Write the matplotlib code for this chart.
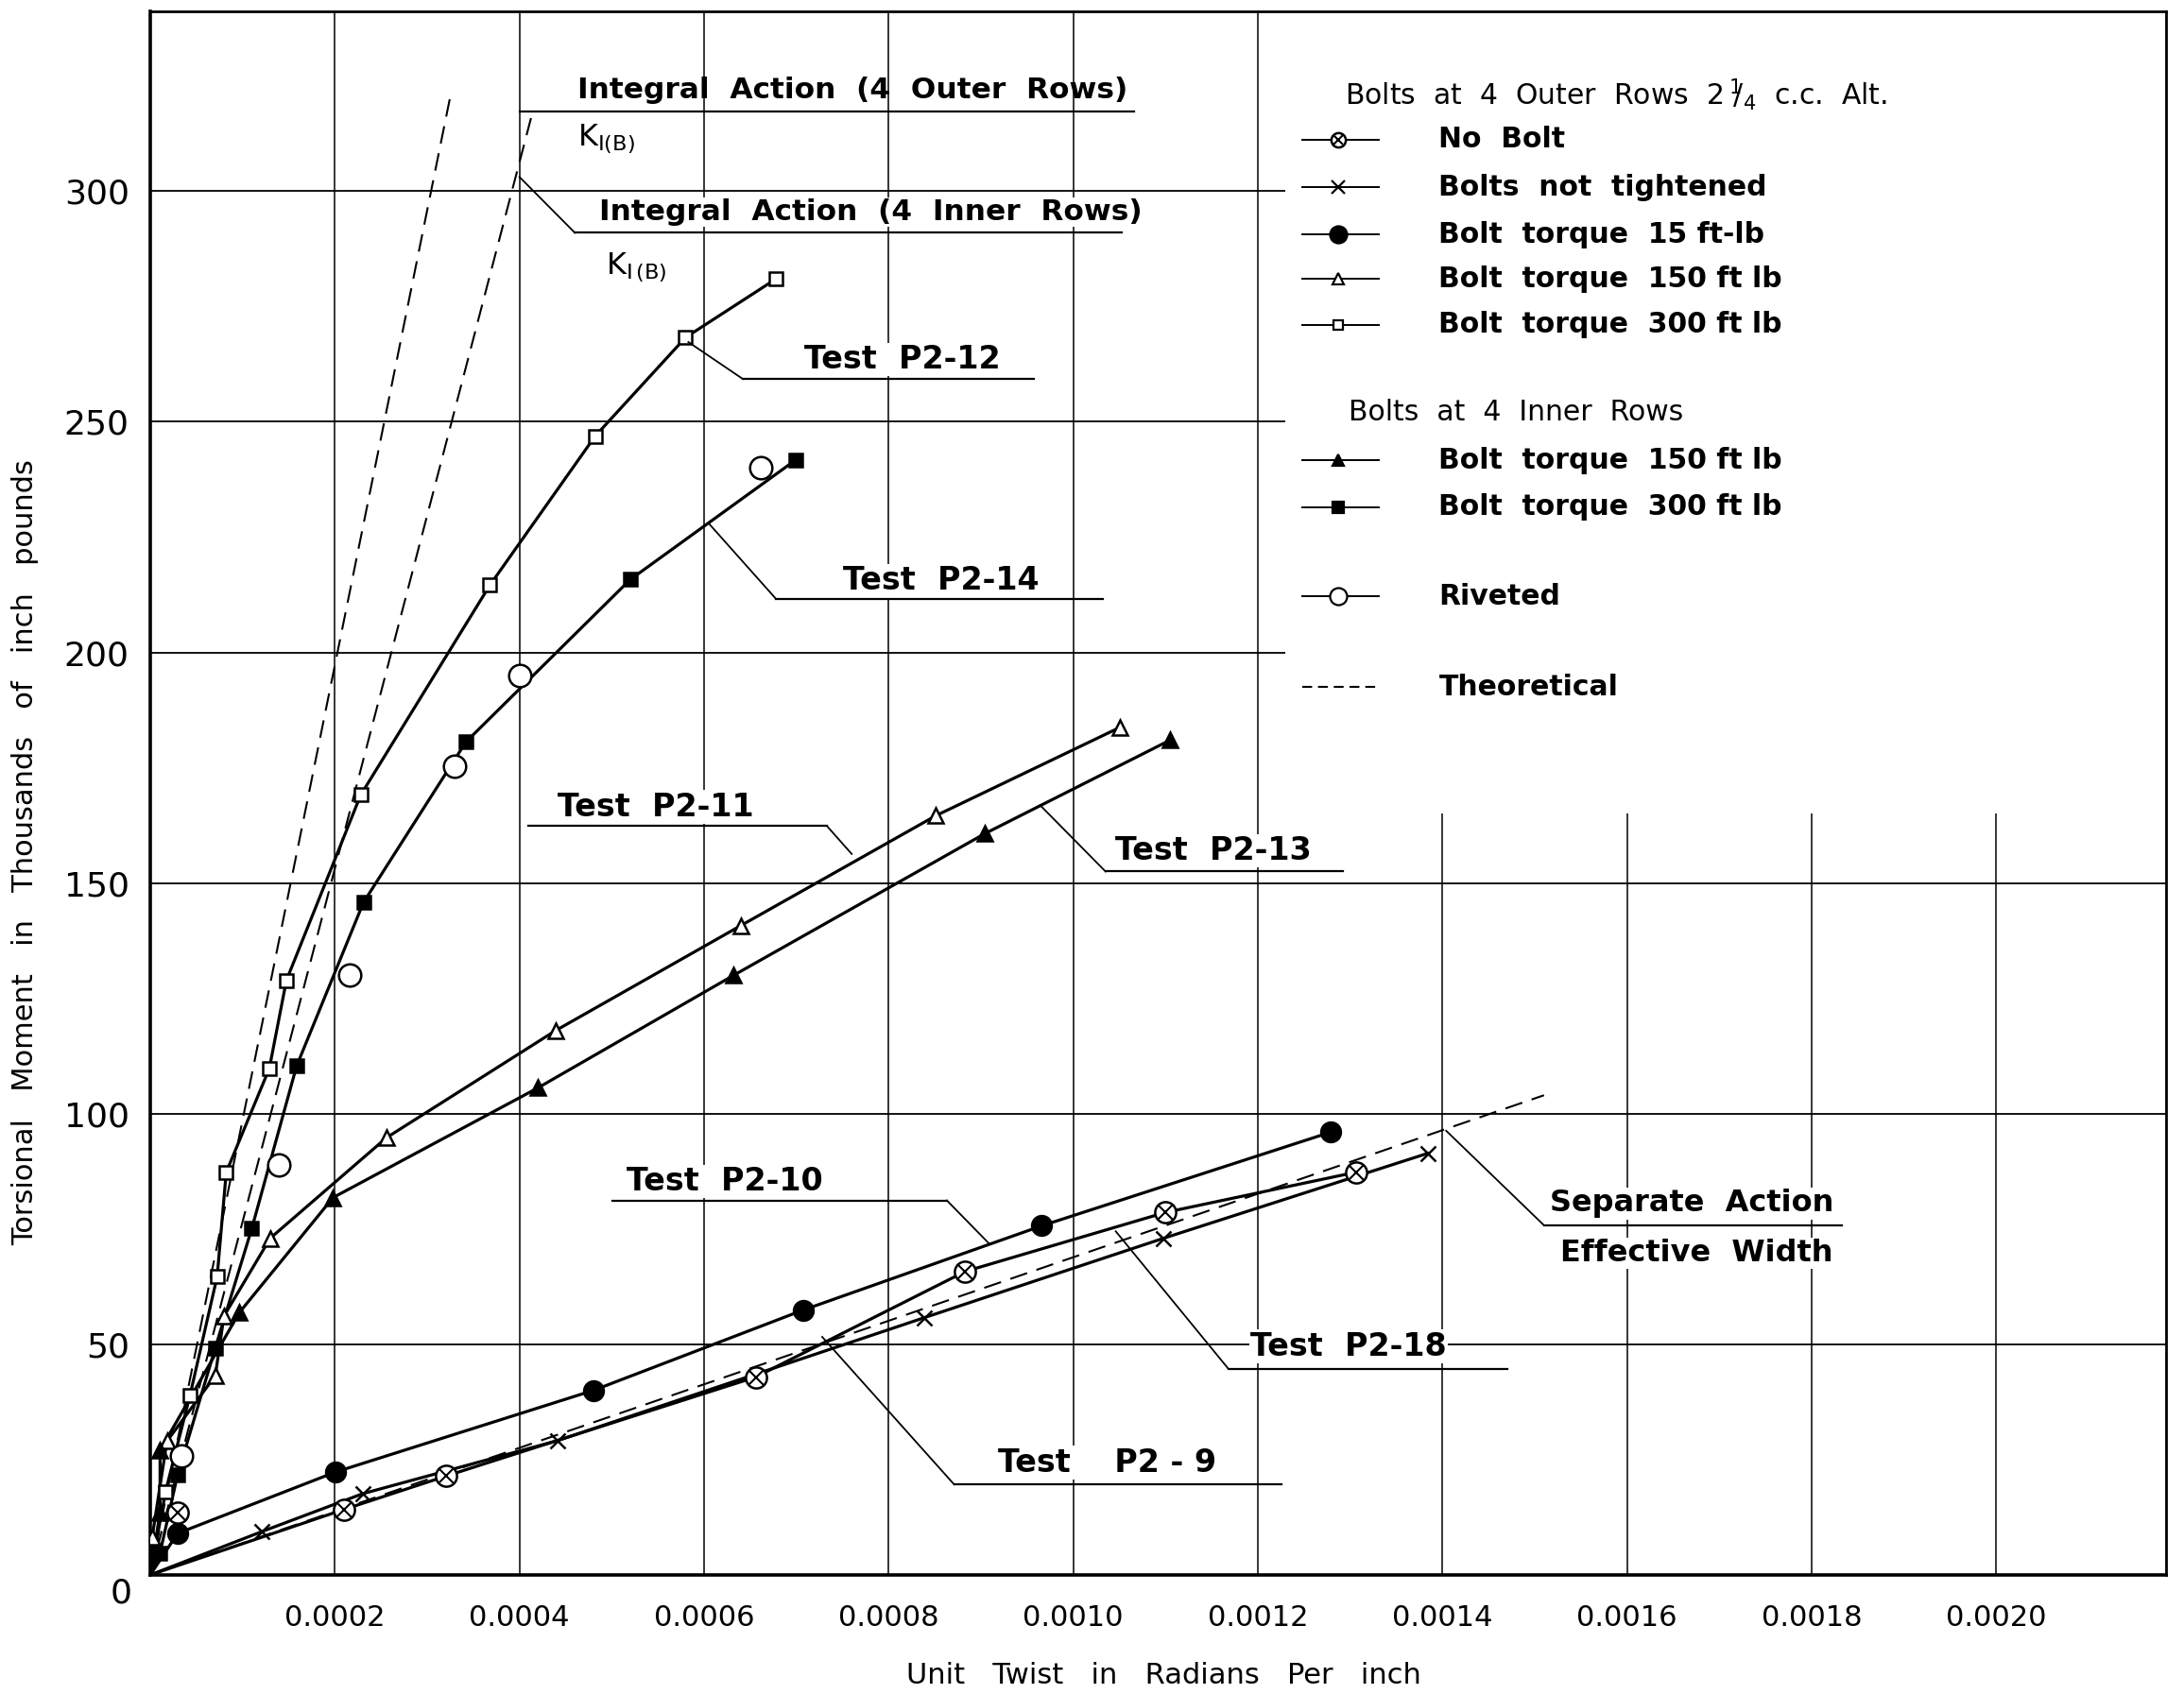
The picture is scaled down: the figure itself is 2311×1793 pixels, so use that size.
import matplotlib
matplotlib.use('Agg')
import matplotlib.pyplot as plt

# Axis ticks
x_ticks = [0.0002, 0.0004, 0.0006, 0.0008, 0.0010, 0.0012, 0.0014, 0.0016, 0.0018, 0.0020]
x_tick_labels = ['0.0002', '0.0004', '0.0006', '0.0008', '0.0010', '0.0012',
                 '0.0014', '0.0016', '0.0018', '0.0020']
y_ticks = [50, 100, 150, 200, 250, 300]
y_tick_labels = ['50', '100', '150', '200', '250', '300']

# Test P2-12, bolts at 4 outer rows, torque 300 ft lb (open squares)
p2_12_x = [0, 0.0000166, 0.000043, 0.0000725, 0.0000823, 0.000129, 0.0001475,
           0.000228, 0.000368, 0.000482, 0.00058, 0.000678]
p2_12_y = [0, 18.1, 38.9, 64.7, 87.3, 109.8, 128.9, 169.1, 214.6, 246.9, 268.3, 281]

# Test P2-14, bolts at 4 inner rows, torque 300 ft lb (filled squares)
p2_14_x = [0, 0.0000106, 0.0000296, 0.0000704, 0.00011, 0.0001585, 0.000231,
           0.000342, 0.00052, 0.000699]
p2_14_y = [0, 4.8, 21.7, 49.2, 75.1, 110.3, 145.8, 180.6, 215.8, 241.7]

# Riveted (open circles)
riveted_x = [0.000034, 0.000139, 0.000216, 0.00033, 0.0004, 0.000661]
riveted_y = [25.9, 88.9, 130, 175.3, 195, 240]

# Test P2-11, outer rows, torque 150 ft lb (open triangles)
p2_11_x = [0, 0.000002, 0.0000181, 0.0000705, 0.0000798, 0.00013, 0.000256,
           0.000439, 0.00064, 0.000851, 0.001051]
p2_11_y = [0, 8.1, 29, 43.2, 56.1, 73, 94.8, 118, 140.8, 164.6, 183.8]

# Test P2-13, inner rows, torque 150 ft lb (filled triangles)
p2_13_x = [0, 0.0000106, 0.0000106, 0.0000966, 0.000198, 0.00042, 0.000632,
           0.000904, 0.001105]
p2_13_y = [0, 13.6, 27, 56.9, 81.8, 105.6, 130, 160.7, 181]

# Test P2-10, torque 15 ft-lb (filled circles)
p2_10_x = [0, 0.0000296, 0.0002006, 0.00048, 0.000707, 0.000966, 0.001279]
p2_10_y = [0, 9.0, 22.3, 40, 57.4, 75.7, 96]

# Test P2-18, no bolt (circled crosses)
p2_18_x = [0, 0.00021, 0.00032, 0.000656, 0.000883, 0.0011, 0.001306]
p2_18_y = [0, 14.2, 21.4, 42.9, 65.8, 78.6, 87.3]
no_bolt_extra_x = [0.00003]
no_bolt_extra_y = [13.6]

# Test P2-9, bolts not tightened (crosses)
p2_9_x = [0, 0.000121, 0.00023, 0.000441, 0.000839, 0.001098, 0.001384]
p2_9_y = [0, 9.4, 17.6, 29.1, 55.8, 73, 91.4]

# Theoretical lines
integral_outer_x = [0, 0.000325]
integral_outer_y = [0, 320.5]
integral_inner_x = [0, 0.000414]
integral_inner_y = [0, 317]
separate_x = [0, 0.00151]
separate_y = [0, 104]

LW = 2.3
DASH = (0, (9, 5))


def draw_curve(ax, x, y, marker, ms, filled):
    """Solid curve from the origin with markers on the measured points."""
    ax.plot(x, y, color='black', lw=LW, zorder=3)
    ax.plot(x[1:], y[1:], ls='none', marker=marker, ms=ms,
            mfc='black' if filled else 'white', mec='black', mew=1.8, zorder=4)


def draw_otimes(ax, x, y, ms):
    ax.plot(x, y, ls='none', marker='o', ms=ms, mfc='white', mec='black', mew=1.8, zorder=5)
    ax.plot(x, y, ls='none', marker='x', ms=ms * 0.68, mec='black', mew=1.5, zorder=6)


def label_with_leader(ax, text, text_x, text_y, line_x0, line_x1, line_y, leader, size=24):
    """Text over an underline, with a leader line to the curve."""
    ax.text(text_x, text_y, text, fontsize=size, fontweight='bold', ha='left', va='center',
            zorder=7, bbox=dict(facecolor='white', edgecolor='none', pad=1))
    ax.plot([line_x0, line_x1], [line_y, line_y], color='black', lw=1.6, zorder=8)
    if leader is not None:
        ax.plot([leader[0], leader[2]], [leader[1], leader[3]], color='black', lw=1.3, zorder=8)


fig = plt.figure(figsize=(23.11, 17.93), dpi=100)
ax = fig.add_axes([0.0688, 0.0703, 0.923, 0.923])
ax.set_xlim(0, 0.002184)
ax.set_ylim(0, 339)

# Grid of the original graph paper
for xv in x_ticks:
    top = 339 if xv < 0.0013 else 165
    ax.vlines(xv, 0, top, color='black', lw=1.1, zorder=1)
for yv in y_ticks:
    right = 0.002184 if yv < 180 else 0.00123
    ax.hlines(yv, 0, right, color='black', lw=1.3, zorder=1)

# Theoretical lines
ax.plot(integral_outer_x, integral_outer_y, color='black', lw=1.5, ls=DASH, zorder=2)
ax.plot(integral_inner_x, integral_inner_y, color='black', lw=1.5, ls=DASH, zorder=2)
ax.plot(separate_x, separate_y, color='black', lw=1.5, ls=DASH, zorder=2)

# Test curves
draw_curve(ax, p2_12_x, p2_12_y, 's', 10, False)
draw_curve(ax, p2_14_x, p2_14_y, 's', 10, True)
draw_curve(ax, p2_11_x, p2_11_y, '^', 11, False)
draw_curve(ax, p2_13_x, p2_13_y, '^', 11, True)
draw_curve(ax, p2_10_x, p2_10_y, 'o', 15, True)
draw_curve(ax, p2_9_x, p2_9_y, 'x', 12, False)
ax.plot(p2_18_x, p2_18_y, color='black', lw=LW, zorder=3)
draw_otimes(ax, p2_18_x[1:], p2_18_y[1:], 16)
draw_otimes(ax, no_bolt_extra_x, no_bolt_extra_y, 16)
ax.plot(riveted_x, riveted_y, ls='none', marker='o', ms=17, mfc='white', mec='black',
        mew=1.8, zorder=4)

# Curve labels
ax.text(0.000463, 322, 'Integral  Action  (4  Outer  Rows)', fontsize=22.5, fontweight='bold',
        ha='left', va='center', zorder=7)
ax.plot([0.0004, 0.001066], [317.2, 317.2], color='black', lw=1.6, zorder=8)
ax.text(0.000463, 311.5, r'K$_{\mathrm{I(B)}}$', fontsize=23, ha='left', va='center', zorder=7)

ax.text(0.000486, 295.5, 'Integral  Action  (4  Inner  Rows)', fontsize=22.5, fontweight='bold',
        ha='left', va='center', zorder=7,
        bbox=dict(facecolor='white', edgecolor='none', pad=1))
ax.plot([0.00046, 0.001053], [291, 291], color='black', lw=1.6, zorder=8)
ax.plot([0.0004, 0.00046], [303.1, 291], color='black', lw=1.3, zorder=8)
ax.text(0.000494, 283.5, r'K$_{\mathrm{I\,(B)}}$', fontsize=23, ha='left', va='center', zorder=7)

label_with_leader(ax, 'Test  P2-12', 0.000709, 263.5, 0.000642, 0.000957, 259.3,
                  (0.000583, 267.3, 0.000642, 259.3))
label_with_leader(ax, 'Test  P2-14', 0.00075, 215.5, 0.000678, 0.001032, 211.6,
                  (0.000605, 228, 0.000678, 211.6))
label_with_leader(ax, 'Test  P2-11', 0.000441, 166.5, 0.00041, 0.000733, 162.4,
                  (0.000733, 162.4, 0.00076, 156.3))
label_with_leader(ax, 'Test  P2-13', 0.001045, 157, 0.001035, 0.001292, 152.5,
                  (0.000964, 166.9, 0.001035, 152.5))
label_with_leader(ax, 'Test  P2-10', 0.000516, 85.3, 0.000501, 0.000863, 81.2,
                  (0.000863, 81.2, 0.000909, 71.8))
label_with_leader(ax, 'Test  P2-18', 0.001192, 49.5, 0.001168, 0.00147, 44.7,
                  (0.001046, 74.5, 0.001168, 44.7))
label_with_leader(ax, 'Test    P2 - 9', 0.000918, 24.3, 0.000871, 0.001226, 19.6,
                  (0.000728, 51.6, 0.000871, 19.6))
label_with_leader(ax, 'Separate  Action', 0.001516, 80.5, 0.00151, 0.001833, 75.8,
                  (0.001404, 96.3, 0.00151, 75.8), size=23)
ax.text(0.001528, 69.7, 'Effective  Width', fontsize=23, fontweight='bold', ha='left',
        va='center', zorder=7, bbox=dict(facecolor='white', edgecolor='none', pad=1))

# Legend drawn by hand, as on the original sheet
leg_x0, leg_x1, leg_xm, leg_xt = 0.001248, 0.001331, 0.001287, 0.001396
ax.text(0.001294, 321, r'Bolts  at  4  Outer  Rows  2$\,^{1}\!\!/_{4}$  c.c.  Alt.',
        fontsize=21.5, ha='left', va='center')
ax.text(0.001298, 252, 'Bolts  at  4  Inner  Rows', fontsize=21.5, ha='left', va='center')
legend_rows = [
    (311.2, 'No  Bolt', 'otimes', 11, False),
    (300.9, 'Bolts  not  tightened', 'x', 10, False),
    (290.6, 'Bolt  torque  15 ft-lb', 'o', 13, True),
    (281.0, 'Bolt  torque  150 ft lb', '^', 8, False),
    (271.0, 'Bolt  torque  300 ft lb', 's', 7, False),
    (241.7, 'Bolt  torque  150 ft lb', '^', 8, True),
    (231.5, 'Bolt  torque  300 ft lb', 's', 8, True),
    (212.2, 'Riveted', 'o', 13, False),
]
for ly, text, mk, ms, filled in legend_rows:
    ax.plot([leg_x0, leg_x1], [ly, ly], color='black', lw=1.4, zorder=3)
    if mk == 'otimes':
        draw_otimes(ax, [leg_xm], [ly], ms)
    else:
        ax.plot([leg_xm], [ly], ls='none', marker=mk, ms=ms,
                mfc='black' if filled else 'white', mec='black', mew=1.6, zorder=4)
    ax.text(leg_xt, ly, text, fontsize=21.5, fontweight='bold', ha='left', va='center')
ax.plot([leg_x0, leg_x1], [192.5, 192.5], color='black', lw=1.5, ls=(0, (5, 3)))
ax.text(leg_xt, 192.5, 'Theoretical', fontsize=21.5, fontweight='bold', ha='left', va='center')

# Axes and ticks
for side in ['left', 'bottom', 'top', 'right']:
    ax.spines[side].set_linewidth(2.6 if side in ('left', 'bottom') else 2.0)
ax.set_xticks(x_ticks)
ax.set_xticklabels(x_tick_labels, fontsize=22)
ax.set_yticks(y_ticks)
ax.set_yticklabels(y_tick_labels, fontsize=26)
ax.tick_params(axis='both', length=0)
ax.tick_params(axis='x', pad=22)
ax.tick_params(axis='y', pad=16)
ax.annotate('0', xy=(0, 0), xytext=(-22, -14), textcoords='offset points',
            fontsize=26, ha='center', va='center', annotation_clip=False)

fig.text(0.5327, 0.0111, 'Unit   Twist   in   Radians   Per   inch', fontsize=22,
         ha='center', va='center')
fig.text(0.0115, 0.497, 'Torsional   Moment   in   Thousands   of   inch   pounds', fontsize=22,
         ha='center', va='center', rotation=90)

fig.savefig('out.png', dpi=100)
